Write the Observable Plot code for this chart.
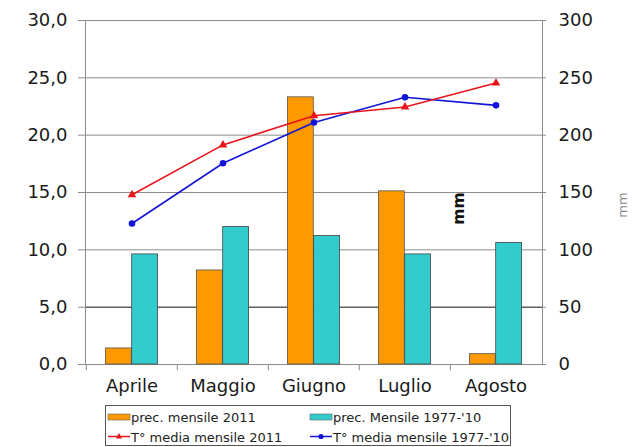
<!DOCTYPE html>
<html><head><meta charset="utf-8">
<script src="https://cdn.jsdelivr.net/npm/d3@7"></script>
<script src="https://cdn.jsdelivr.net/npm/@observablehq/plot@0.6"></script>
<style>
body{margin:0;background:#fff;font-family:"DejaVu Sans",sans-serif;}
#wrap{position:relative;width:633px;height:447px;overflow:hidden;background:#fff;}
#legend{position:absolute;left:105px;top:405px;}
</style></head>
<body><div id="wrap"><div id="chart"></div><div id="legend"></div></div>
<script>
const months = ["Aprile","Maggio","Giugno","Luglio","Agosto"];
const prec2011 = [14, 82, 233, 151, 9];        // mm
const precNorm = [96, 120, 112, 96, 106];      // mm 1977-'10
const temp2011 = [14.8, 19.15, 21.7, 22.45, 24.55];
const tempNorm = [12.3, 17.55, 21.1, 23.3, 22.6];
const leftTicks = [0,5,10,15,20,25,30];
const legendLabels = ["prec. mensile 2011","prec. Mensile 1977-'10","T° media mensile 2011","T° media mensile 1977-'10"];

const orange = "#ff9900", teal = "#33cccc", red = "#e8141c", blue = "#1414d8", grid = "#8c8c8c";
const rows = months.map((m,i)=>({m, p1:prec2011[i], p2:precNorm[i], t1:temp2011[i], t2:tempNorm[i]}));
const bw = 91.4, barW = 26.3;
const font = "DejaVu Sans, sans-serif";

const chart = Plot.plot({
  width:633, height:402, marginLeft:85, marginRight:91, marginTop:20, marginBottom:38,
  style:{fontFamily:font, background:"transparent", color:"#1a1a1a"},
  x:{domain:months, padding:0, axis:null},
  y:{domain:[0,30], axis:null},
  marks:[
    Plot.ruleY(leftTicks.filter(d=>d!==5 && d!==0), {stroke:grid, strokeWidth:1}),
    Plot.ruleY([5], {stroke:"#111", strokeWidth:1}),
    Plot.frame({stroke:grid}),
    Plot.ruleX(months, {dx:-bw/2, y1:0, y2:-0.55, stroke:grid}),
    Plot.axisY({anchor:"left", label:null, ticks:leftTicks, tickFormat:d=>d.toFixed(1).replace(".",","), tickSize:7, tickPadding:11, fontSize:18, stroke:grid}),
    Plot.axisY({anchor:"right", label:null, ticks:leftTicks, tickFormat:d=>String(d*10), tickSize:3, tickPadding:13, fontSize:18, stroke:grid}),
    Plot.axisX({label:null, ticks:months, tickSize:0, tickPadding:15, fontSize:18}),
    Plot.barY(rows, {x:"m", y1:0, y2:d=>d.p1/10, fill:orange, stroke:"#555", strokeWidth:0.8, insetLeft:bw/2-barW, insetRight:bw/2}),
    Plot.barY(rows, {x:"m", y1:0, y2:d=>d.p2/10, fill:teal, stroke:"#444", strokeWidth:0.8, insetLeft:bw/2, insetRight:bw/2-barW}),
    Plot.lineY(rows, {x:"m", y:"t2", stroke:blue, strokeWidth:1.6}),
    Plot.dot(rows, {x:"m", y:"t2", fill:blue, r:3.3}),
    Plot.lineY(rows, {x:"m", y:"t1", stroke:red, strokeWidth:1.6}),
    Plot.dot(rows, {x:"m", y:"t1", fill:red, symbol:"triangle", r:3.2}),
    Plot.text(["mm"], {x:()=>"Luglio", y:()=>13.6, dx:bw/2+8, rotate:-90, fontSize:15.5, fill:"#111", fontWeight:"bold"}),
    Plot.text(["mm"], {x:()=>"Agosto", y:()=>13.9, dx:bw/2+81, rotate:-90, fontSize:13, fill:"#888"})
  ]
});
document.getElementById("chart").appendChild(chart);

// Legend
const lg = d3.select("#legend").append("svg").attr("width",410).attr("height",42);
lg.append("rect").attr("x",0.5).attr("y",0.5).attr("width",405).attr("height",40).attr("fill","#fff").attr("stroke","#555");
const items = [
  {x:3, y:12, type:"bar", c:orange, t:legendLabels[0]},
  {x:205, y:12, type:"bar", c:teal, t:legendLabels[1]},
  {x:3, y:31.5, type:"line", c:red, sym:"tri", t:legendLabels[2]},
  {x:205, y:31.5, type:"line", c:blue, sym:"dot", t:legendLabels[3]}
];
items.forEach(it=>{
  const g = lg.append("g").attr("transform",`translate(${it.x},${it.y})`);
  if(it.type==="bar"){
    g.append("rect").attr("x",0).attr("y",-3).attr("width",22).attr("height",6).attr("fill",it.c).attr("stroke","#666").attr("stroke-width",0.6);
  } else {
    g.append("line").attr("x1",0).attr("x2",22).attr("y1",0).attr("y2",0).attr("stroke",it.c).attr("stroke-width",1.5);
    if(it.sym==="tri") g.append("path").attr("d","M11,-3.5L14,2L8,2Z").attr("fill",it.c);
    else g.append("circle").attr("cx",11).attr("cy",0).attr("r",2.6).attr("fill",it.c);
  }
  g.append("text").attr("x",23).attr("y",5).attr("font-size",13).attr("fill","#222").attr("font-family",font).text(it.t);
});
</script></body></html>
